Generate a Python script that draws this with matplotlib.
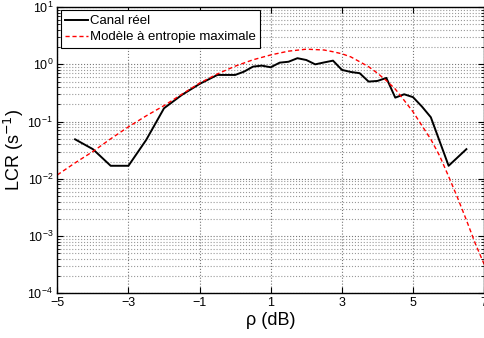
import matplotlib
matplotlib.use("Agg")
import matplotlib.pyplot as plt
from matplotlib.ticker import LogLocator, NullFormatter

# measured LCR of the real channel
rho_canal = [-4.5, -4.0, -3.5, -3.0, -2.5, -2.0, -1.5, -1.0, -0.5, 0.0, 0.25, 0.5,
             0.75, 1.0, 1.25, 1.5, 1.75, 2.0, 2.25, 2.5, 2.75, 3.0, 3.25, 3.5,
             3.75, 4.0, 4.25, 4.5, 4.75, 5.0, 5.25, 5.5, 6.0, 6.5]
lcr_canal = [0.049, 0.033, 0.0169, 0.0169, 0.048, 0.171, 0.292, 0.455, 0.653, 0.653,
             0.746, 0.912, 0.949, 0.889, 1.07, 1.11, 1.28, 1.19, 1.0, 1.08,
             1.16, 0.80, 0.736, 0.70, 0.50, 0.513, 0.579, 0.262, 0.30, 0.267,
             0.183, 0.119, 0.0169, 0.033]

# maximum entropy model
rho_model = [-5.0, -4.5, -4.0, -3.5, -3.0, -2.5, -2.0, -1.5, -1.0, -0.5, 0.0, 0.5,
             1.0, 1.5, 2.0, 2.5, 2.75, 3.0, 3.25, 3.5, 3.75, 4.0, 4.25, 4.5,
             4.75, 5.0, 5.25, 5.5, 5.75, 6.0, 6.25, 6.5, 6.75, 7.0]
lcr_model = [0.0117, 0.019, 0.030, 0.050, 0.081, 0.126, 0.19, 0.30, 0.47, 0.68, 0.93, 1.20,
             1.46, 1.70, 1.84, 1.78, 1.66, 1.53, 1.35, 1.11, 0.91, 0.70, 0.52, 0.37,
             0.235, 0.148, 0.085, 0.049, 0.025, 0.011, 0.0047, 0.0019, 0.00074, 0.00032]

x_ticks = [-5, -3, -1, 1, 3, 5, 7]

plt.rcParams["font.family"] = ["Liberation Sans", "DejaVu Sans"]

fig = plt.figure(figsize=(4.84, 3.38), dpi=100)
ax = fig.add_axes([0.1184, 0.1322, 0.882, 0.8468])

ax.semilogy(rho_canal, lcr_canal, color="black", lw=1.4, label="Canal réel")
ax.semilogy(rho_model, lcr_model, color="red", lw=1.0, ls=(0, (3, 2)),
            label="Modèle à entropie maximale")

ax.set_xlim(-5, 7)
ax.set_ylim(1e-4, 1e1)
ax.set_xticks(x_ticks)
ax.set_xticklabels([str(t).replace("-", "\u2212") for t in x_ticks])
ax.yaxis.set_major_locator(LogLocator(base=10, numticks=10))
ax.yaxis.set_minor_locator(LogLocator(base=10, subs=range(2, 10), numticks=20))
ax.yaxis.set_minor_formatter(NullFormatter())

ax.grid(True, which="major", ls=":", color="#777777", lw=0.8)
ax.grid(True, which="minor", axis="y", ls=":", color="#999999", lw=0.8)
ax.tick_params(which="both", direction="in", top=True, right=True, labelsize=9)
ax.tick_params(which="major", length=4, pad=3)
ax.tick_params(which="minor", length=2)
for s in ax.spines.values():
    s.set_linewidth(1.0)

ax.set_xlabel("ρ (dB)", fontsize=13)
ax.set_ylabel("LCR (s$^{-1}$)", fontsize=13)
ax.xaxis.set_label_coords(0.5, -0.065)
ax.yaxis.set_label_coords(-0.074, 0.5)

leg = ax.legend(loc="upper left", fontsize=9.5, fancybox=False, framealpha=1,
                edgecolor="black", borderpad=0.35, handlelength=1.7,
                labelspacing=0.3, handletextpad=0.15, borderaxespad=0.25)
leg.get_frame().set_linewidth(0.8)

fig.savefig("out.png", dpi=100)
